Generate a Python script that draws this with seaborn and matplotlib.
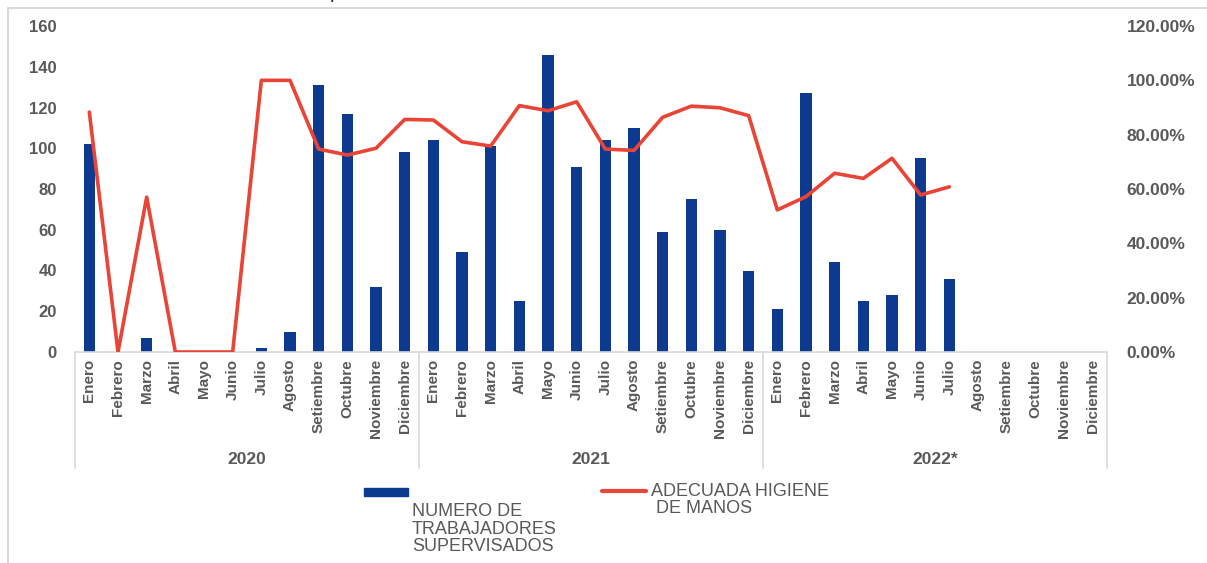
import numpy as np
import pandas as pd
import matplotlib
matplotlib.use("Agg")
import matplotlib.pyplot as plt
import seaborn as sns
from matplotlib.patches import Rectangle
from matplotlib.lines import Line2D
from matplotlib.ticker import FuncFormatter
import matplotlib.transforms as mtransforms

# Datos
meses = ["Enero", "Febrero", "Marzo", "Abril", "Mayo", "Junio", "Julio",
         "Agosto", "Setiembre", "Octubre", "Noviembre", "Diciembre"]
anios = ["2020", "2021", "2022*"]

trabajadores_2020 = [102, 0, 7, 0, 0, 0, 2, 10, 131, 117, 32, 98]
trabajadores_2021 = [104, 49, 101, 25, 146, 91, 104, 110, 59, 75, 60, 40]
trabajadores_2022 = [21, 127, 44, 25, 28, 95, 36, None, None, None, None, None]

# porcentaje de adecuada higiene de manos
higiene_2020 = [88.3, 0, 57.0, 0, 0, 0, 100, 100, 74.7, 72.5, 75.0, 85.6]
higiene_2021 = [85.4, 77.4, 75.8, 90.7, 88.8, 92.1, 74.7, 74.2, 86.4, 90.5, 89.9, 87.0]
higiene_2022 = [52.3, 57.2, 65.8, 63.9, 71.3, 57.8, 60.8, None, None, None, None, None]

df = pd.DataFrame({
    "mes": meses * 3,
    "anio": [a for a in anios for _ in meses],
    "trabajadores": trabajadores_2020 + trabajadores_2021 + trabajadores_2022,
    "higiene": higiene_2020 + higiene_2021 + higiene_2022,
})
df["pos"] = range(len(df))
df["trabajadores"] = pd.to_numeric(df["trabajadores"])
df["higiene"] = pd.to_numeric(df["higiene"])

azul = "#0B3A8F"
rojo = "#E94436"
gris_txt = "#595959"
gris_lin = "#D9D9D9"

sns.set_style("white")
plt.rcParams["font.family"] = ["Liberation Sans", "DejaVu Sans"]

fig = plt.figure(figsize=(12.07, 5.63), dpi=100)
ax = fig.add_axes([75 / 1207, 1 - 352 / 563, (1107 - 75) / 1207, 326 / 563])

sns.barplot(data=df.dropna(subset=["trabajadores"]), x="pos", y="trabajadores",
            native_scale=True, color=azul, saturation=1, width=0.4,
            linewidth=0, ax=ax)

ax2 = ax.twinx()
sns.lineplot(data=df, x="pos", y="higiene", color=rojo, lw=2.6, ax=ax2, legend=False)

ax.set_xlim(-0.5, len(df) - 0.5)
ax.set_ylim(0, 160)
ax.set_yticks(range(0, 161, 20))
ax2.set_ylim(0, 120)
ax2.set_yticks(range(0, 121, 20))
ax2.yaxis.set_major_formatter(FuncFormatter(lambda v, _: f"{v:.2f}%"))

ax.set_xticks(df["pos"])
ax.set_xticklabels(df["mes"], rotation=90, fontsize=11, fontweight="bold", color=gris_txt)
ax.tick_params(axis="x", length=0, pad=5)
ax.tick_params(axis="y", length=0, pad=13, labelsize=12, labelcolor=gris_txt)
for t in ax.get_yticklabels():
    t.set_fontweight("bold")
ax2.tick_params(axis="y", length=0, pad=14, labelsize=12.5, labelcolor=gris_txt)
for t in ax2.get_yticklabels():
    t.set_fontweight("bold")

ax.set_xlabel("")
ax.set_ylabel("")
ax2.set_xlabel("")
ax2.set_ylabel("")

for a in (ax, ax2):
    for s in ("top", "left", "right"):
        a.spines[s].set_visible(False)
ax2.spines["bottom"].set_visible(False)
ax.spines["bottom"].set_color(gris_lin)
ax.spines["bottom"].set_linewidth(1.2)

# separadores y etiquetas de anio
trans = mtransforms.blended_transform_factory(ax.transData, ax.transAxes)
for k in range(len(anios) + 1):
    ax.plot([k * 12 - 0.5] * 2, [0, -0.356], transform=trans, color=gris_lin,
            lw=1.2, clip_on=False)
for k, a in enumerate(anios):
    ax.text(k * 12 + 5.5, -0.331, a, transform=trans, ha="center", va="center",
            fontsize=12.5, fontweight="bold", color=gris_txt)

# leyenda
fig.patches.append(Rectangle((364 / 1207, 1 - 496 / 563), 44 / 1207, 8 / 563,
                             transform=fig.transFigure, color=azul))
fig.text(412 / 1207, 1 - 503 / 563, "NUMERO DE\nTRABAJADORES\nSUPERVISADOS",
         ha="left", va="top", fontsize=13, color=gris_txt, linespacing=1.05)
fig.lines.append(Line2D([602 / 1207, 646 / 1207], [1 - 491 / 563] * 2,
                        transform=fig.transFigure, color=rojo, lw=3,
                        solid_capstyle="round"))
fig.text(651 / 1207, 1 - 483 / 563, "ADECUADA HIGIENE\n DE MANOS",
         ha="left", va="top", fontsize=13, color=gris_txt, linespacing=1.0)

# marco y resto del titulo recortado
fig.patches.append(Rectangle((8 / 1207, -0.1), 1.2, 1.1 - 8 / 563,
                             transform=fig.transFigure, fill=False,
                             edgecolor=gris_lin, lw=1.5))
fig.text(335 / 1207, 1.003, "p", ha="center", va="baseline", fontsize=14)

fig.savefig("out.png", dpi=100)
